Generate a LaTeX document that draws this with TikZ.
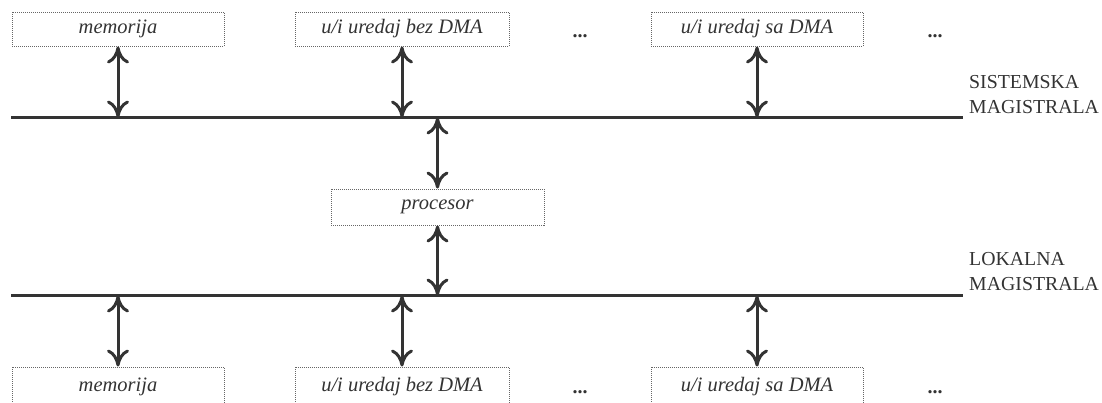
\documentclass[tikz,border=0pt]{standalone}
\usepackage{fontspec}
\setmainfont{Liberation Serif}
\usetikzlibrary{arrows.meta}
\definecolor{ink}{HTML}{333333}
\definecolor{boxline}{HTML}{666666}
\begin{document}
\begin{tikzpicture}[x=1pt,y=-1pt,
  box/.style={draw=boxline, densely dotted, line width=1pt, rectangle, inner sep=0pt,
    minimum width=212pt, minimum height=34pt, text=ink,
    font=\fontsize{20.5}{24}\selectfont\itshape},
  dots/.style={text=ink, inner sep=0pt, anchor=base, font=\fontsize{20}{22}\selectfont\bfseries},
  bus/.style={draw=ink, line width=3.4pt},
  link/.style={draw=ink, line width=3pt,
    {Computer Modern Rightarrow[length=17pt,width=22pt]}-{Computer Modern Rightarrow[length=17pt,width=22pt]}},
  lbl/.style={text=ink, inner sep=0pt, align=left, anchor=base west,
    font=\fontsize{19.8}{24.5}\selectfont}]
\useasboundingbox (0,0) rectangle (1102,402);
% top row
\node[box] (m1) at (118,29) {memorija};
\node[box, minimum width=214pt] (u1) at (402,29) {u/i uredaj bez DMA};
\node[box] (d1) at (757,29) {u/i uredaj sa DMA};
\node[dots] (t1) at (580,37) {...};
\node[dots] (t2) at (935,37) {...};
% system bus
\coordinate (s1) at (11,117.5);
\coordinate (s2) at (963,117.5);
\draw[bus] (s1) -- (s2);
\node[lbl] (sl) at (969,113) {SISTEMSKA\\MAGISTRALA};
% processor
\node[box, minimum width=213pt, minimum height=36pt] (p) at (437.5,207) {procesor};
% local bus
\coordinate (l1) at (11,295.5);
\coordinate (l2) at (963,295.5);
\draw[bus] (l1) -- (l2);
\node[lbl] (ll) at (969,290) {LOKALNA\\MAGISTRALA};
% bottom row
\node[box, minimum height=40pt] (m2) at (118,387) {memorija};
\node[box, minimum width=214pt, minimum height=40pt] (u2) at (402,387) {u/i uredaj bez DMA};
\node[box, minimum height=40pt] (d2) at (757,387) {u/i uredaj sa DMA};
\node[dots] (b1) at (580,393) {...};
\node[dots] (b2) at (935,393) {...};
% connectors
\draw[link] (m1.south) -- (m1.south |- s1);
\draw[link] (u1.south) -- (u1.south |- s1);
\draw[link] (d1.south) -- (d1.south |- s1);
\draw[link] (p.north) -- (p.north |- s1);
\draw[link] (p.south) -- (p.south |- l1);
\draw[link] (m2.north) -- (m2.north |- l1);
\draw[link] (u2.north) -- (u2.north |- l1);
\draw[link] (d2.north) -- (d2.north |- l1);
\end{tikzpicture}
\end{document}
